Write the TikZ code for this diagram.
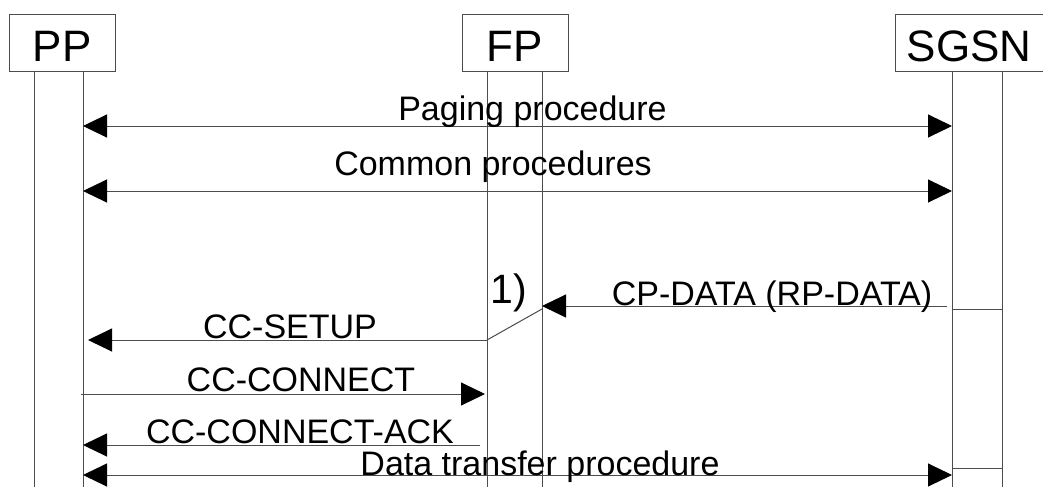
\documentclass[tikz,border=0pt]{standalone}
\usepackage{fontspec}
\setmainfont{Liberation Sans}
\usetikzlibrary{arrows.meta}
\begin{document}
\begin{tikzpicture}[x=1pt,y=-1pt,
  ln/.style={draw=black!70, line width=1pt},
  tip/.tip={Triangle[length=24pt,width=23pt,black]},
  msg/.style={ln, -tip},
  bmsg/.style={ln, tip-tip},
  ent/.style={draw=black!70, line width=1pt, anchor=base, inner sep=0pt,
    text height=47pt, text depth=9pt, font=\fontsize{44}{50}\selectfont},
  lbl/.style={inner sep=0pt, anchor=base, font=\fontsize{34}{40}\selectfont}]
\useasboundingbox (0,0) rectangle (1043,487);
% entities
\node[ent, minimum width=106pt] (pp) at (62,62) {PP};
\node[ent, minimum width=106pt] (fp) at (515,62) {FP};
\node[ent, minimum width=148pt] (sgsn) at (969,62) {SGSN};
% lifelines
\coordinate (ppL) at (34,71);  \coordinate (ppR) at (83,71);
\coordinate (fpL) at (487,71); \coordinate (fpR) at (542,71);
\coordinate (sgL) at (952,71); \coordinate (sgR) at (1002,71);
\coordinate (bot) at (0,487);
\foreach \l in {ppL,ppR,fpL,fpR,sgL,sgR}
  \draw[ln] (\l) -- (\l |- bot);
% message levels
\coordinate (yPag) at (0,126);
\coordinate (yCom) at (0,191);
\coordinate (yCP) at (0,306);
\coordinate (ySg) at (0,309);
\coordinate (ySet) at (0,340);
\coordinate (yCon) at (0,394);
\coordinate (yAck) at (0,445);
\coordinate (yDat) at (0,475);
\coordinate (ySg2) at (0,468);
% messages
\draw[bmsg] (ppR |- yPag) -- (sgL |- yPag);
\draw[bmsg] (ppR |- yCom) -- (sgL |- yCom);
\draw[msg] ([xshift=-5pt]sgL |- yCP) -- (fpR |- yCP);
\draw[ln] (sgL |- ySg) -- (sgR |- ySg);
\draw[ln] (sgL |- ySg2) -- (sgR |- ySg2);
\draw[ln] (fpR |- ySg) -- (fpL |- ySet);
\draw[msg] (fpL |- ySet) -- ([xshift=5pt]ppR |- ySet);
\draw[msg] ([xshift=-2pt]ppR |- yCon) -- ([xshift=-2pt]fpL |- yCon);
\draw[msg] ([xshift=-7pt]fpL |- yAck) -- (ppR |- yAck);
\draw[bmsg] (ppR |- yDat) -- (sgL |- yDat);
% labels
\node[lbl] (lPag) at (532.5,120) {Paging procedure};
\node[lbl] (lCom) at (493,175) {Common procedures};
\node[lbl] (lCP) at (772,305) {CP-DATA (RP-DATA)};
\node[lbl, font=\fontsize{41}{46}\selectfont] (lOne) at (508.5,303) {1)};
\node[lbl] (lSet) at (290,338) {CC-SETUP};
\node[lbl] (lCon) at (301,391) {CC-CONNECT};
\node[lbl] (lAck) at (300,443) {CC-CONNECT-ACK};
\node[lbl] (lDat) at (540,475) {Data transfer procedure};
\end{tikzpicture}
\end{document}
